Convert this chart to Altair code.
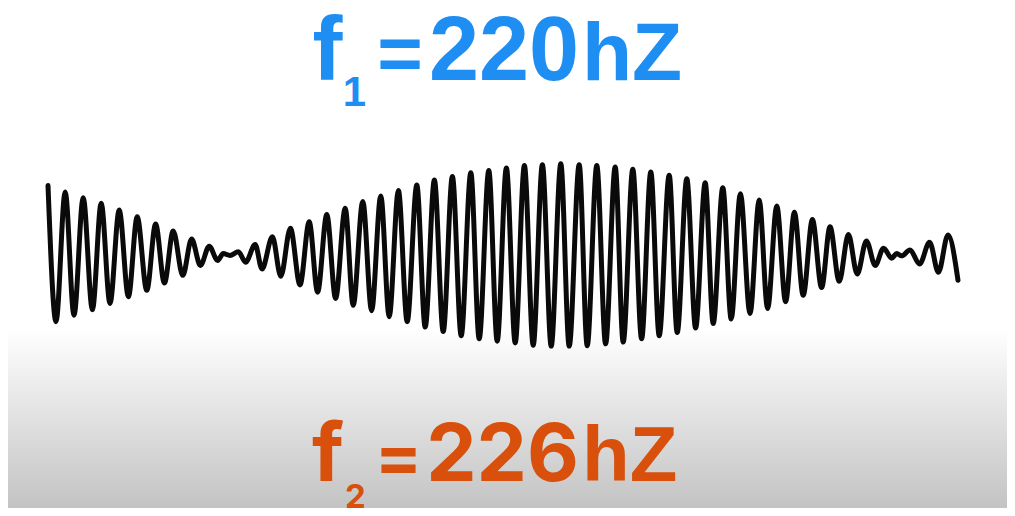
import altair as alt
import pandas as pd

# Extrema of the beat waveform (time in ms, pressure in arbitrary units)
time_ms = [0.0, 2.0, 4.3, 6.5, 8.8, 11.1, 13.3, 15.5, 17.8, 20.1, 22.3, 24.7, 26.9, 29.1, 31.3, 33.7,
           35.9, 38.1, 40.3, 42.4, 43.8, 45.5, 47.6, 49.4, 51.8, 53.5, 56.1, 58.2, 60.6, 63.0, 65.3,
           67.4, 69.7, 71.9, 74.3, 76.3, 78.7, 80.9, 83.2, 85.3, 87.6, 89.8, 92.2, 94.3, 96.6, 98.8,
           101.1, 103.3, 105.7, 107.8, 110.2, 112.3, 114.6, 116.8, 119.1, 121.3, 123.6, 125.8, 128.2,
           130.3, 132.8, 134.8, 137.2, 139.4, 141.8, 143.8, 146.2, 148.4, 150.7, 152.8, 155.3, 157.3,
           159.7, 161.9, 164.3, 166.3, 168.7, 170.8, 173.1, 175.5, 177.8, 179.9, 182.2, 184.4, 186.6,
           188.8, 191.1, 193.4, 195.5, 197.8, 200.1, 202.3, 204.6, 206.8, 208.9, 210.9, 212.2, 213.4,
           215.5, 217.9, 220.4, 222.6, 225.0, 227.5]
pressure = [1.52, -1.48, 1.38, -1.34, 1.25, -1.22, 1.13, -1.08, 0.98, -0.93, 0.83, -0.79, 0.67, -0.63,
            0.52, -0.46, 0.34, -0.24, 0.18, -0.13, 0.02, -0.02, 0.06, -0.17, 0.22, -0.32, 0.39, -0.48,
            0.58, -0.67, 0.72, -0.83, 0.88, -0.97, 1.02, -1.12, 1.17, -1.24, 1.29, -1.37, 1.41, -1.48,
            1.53, -1.60, 1.64, -1.70, 1.72, -1.79, 1.80, -1.86, 1.85, -1.91, 1.91, -1.95, 1.96, -2.00,
            1.98, -2.02, 2.00, -2.02, 1.98, -2.01, 1.96, -1.97, 1.93, -1.93, 1.88, -1.86, 1.82, -1.79,
            1.75, -1.72, 1.67, -1.62, 1.58, -1.52, 1.47, -1.42, 1.34, -1.30, 1.20, -1.19, 1.07, -1.04,
            0.93, -0.90, 0.77, -0.73, 0.61, -0.59, 0.44, -0.43, 0.30, -0.24, 0.14, -0.08, 0.02, -0.03,
            0.10, -0.21, 0.27, -0.39, 0.43, -0.57]

label_1 = ["f", "1", "=", "220", "hZ"]
label_2 = ["f", "2", "=", "226", "hZ"]

W, H = 999, 500
BLUE = "#1f8ef3"
ORANGE = "#d8500c"

wave = pd.DataFrame({"t": time_ms, "p": pressure})

x_scale = alt.Scale(domain=[-10, 239.75], nice=False, zero=False)
y_scale = alt.Scale(domain=[-5.457, 5.413], nice=False, zero=False)

bg = alt.Chart(pd.DataFrame({"k": [0]})).mark_rect(
    fill=alt.Gradient(
        gradient="linear",
        stops=[alt.GradientStop(color="#ffffff", offset=0),
               alt.GradientStop(color="#ffffff", offset=0.64),
               alt.GradientStop(color="#e4e4e4", offset=0.8),
               alt.GradientStop(color="#c3c3c3", offset=1)],
        x1=0, x2=0, y1=0, y2=1),
    strokeWidth=0,
).encode(x=alt.value(0), x2=alt.value(W), y=alt.value(0), y2=alt.value(H))

line = alt.Chart(wave).mark_line(
    interpolate="monotone", color="#0a0a0a", strokeWidth=5, strokeCap="round", strokeJoin="round"
).encode(
    x=alt.X("t:Q", scale=x_scale, axis=None),
    y=alt.Y("p:Q", scale=y_scale, axis=None),
    order="t:Q",
)


def piece(txt, x, base, size, color, font, align="center"):
    return alt.Chart(pd.DataFrame({"s": [txt]})).mark_text(
        align=align, baseline="alphabetic", fontSize=size, font=font, fontWeight="bold", color=color
    ).encode(text="s:N", x=alt.value(x), y=alt.value(base))


main_font = "Liberation Sans"
orange_font = "Inter"
texts = [
    piece(label_1[0], 319.5, 71, 90, BLUE, main_font),
    piece(label_1[1], 346.5, 97, 42, BLUE, main_font),
    piece(label_1[2], 392, 71, 78, BLUE, main_font),
    piece(label_1[3], 496, 71, 90, BLUE, main_font),
    piece(label_1[4], 574, 71, 82, BLUE, main_font, align="left"),
    piece(label_2[0], 320, 472, 80, ORANGE, orange_font),
    piece(label_2[1], 347.5, 499, 33, ORANGE, orange_font),
    piece(label_2[2], 390.5, 472, 70, ORANGE, orange_font),
    piece(label_2[3], 494.5, 472, 80, ORANGE, orange_font),
    piece(label_2[4], 574, 472, 78, ORANGE, main_font, align="left"),
]

chart = alt.layer(bg, line, *texts).properties(
    width=W, height=H,
    autosize=alt.AutoSizeParams(type="fit", contains="padding"),
    padding=0,
    background="white",
).configure_view(strokeWidth=0)

chart.save("out.html", embed_options={"renderer": "svg", "actions": False})
